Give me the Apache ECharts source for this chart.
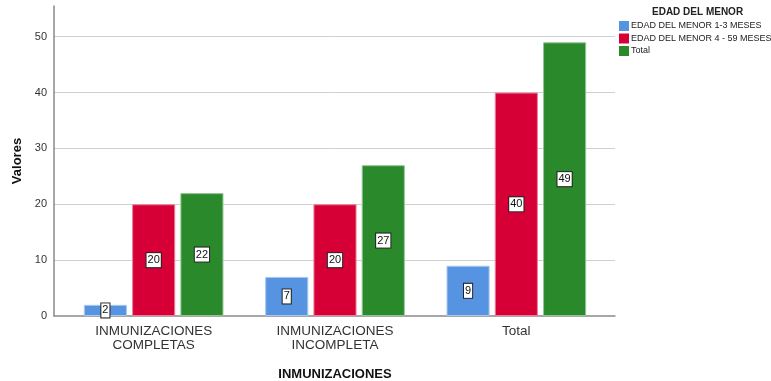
<!DOCTYPE html>
<html>
<head>
<meta charset="utf-8">
<script src="https://cdn.jsdelivr.net/npm/echarts@6/dist/echarts.min.js"></script>
<style>
  html, body { margin: 0; padding: 0; background: #ffffff; }
  #chart { width: 771px; height: 381px; }
</style>
</head>
<body>
<div id="chart"></div>
<script>
// Categories along the x axis
const categories = ['INMUNIZACIONES\nCOMPLETAS', 'INMUNIZACIONES\nINCOMPLETA', 'Total'];

// Series names and values
const seriesNames = ['EDAD DEL MENOR 1-3 MESES', 'EDAD DEL MENOR 4 - 59 MESES', 'Total'];
const edad1a3 = [2, 7, 9];
const edad4a59 = [20, 20, 40];
const totalEdad = [22, 27, 49];

// Value axis ticks
const yMin = 0;
const yMax = 55.5;
const yInterval = 10;

const fills = ['#5694e2', '#d70036', '#2a8a2b'];
const edges = ['#a9c8f0', '#ea7f9a', '#94c494'];
const font = 'Liberation Sans, Arial, sans-serif';

const chart = echarts.init(document.getElementById('chart'), null, { renderer: 'canvas' });

const valueData = [edad1a3, edad4a59, totalEdad];

chart.setOption({
  animation: false,
  backgroundColor: '#ffffff',
  textStyle: { fontFamily: font },
  title: {
    text: 'EDAD DEL MENOR',
    left: 652,
    top: 7,
    padding: 0,
    textStyle: { fontFamily: font, fontSize: 10, fontWeight: 'bold', color: '#222' }
  },
  legend: {
    orient: 'vertical',
    left: 619,
    top: 21,
    padding: 0,
    itemWidth: 10,
    itemHeight: 10,
    itemGap: 2.5,
    icon: 'rect',
    data: seriesNames,
    itemStyle: { borderWidth: 0 },
    textStyle: { fontFamily: font, fontSize: 9, color: '#222', padding: [0, 0, 0, -3] }
  },
  grid: [
    { left: 54, right: 156, top: 6, bottom: 65, outerBoundsMode: 'none', containLabel: false },
    { left: 63, right: 164, top: 6, bottom: 65, outerBoundsMode: 'none', containLabel: false }
  ],
  xAxis: [
    {
      gridIndex: 0,
      type: 'value',
      min: 0,
      max: 1,
      axisLine: { show: true, onZero: false, lineStyle: { color: '#8a8a8a', width: 1.5 } },
      axisTick: { show: false },
      axisLabel: { show: false },
      splitLine: { show: false }
    },
    {
      gridIndex: 1,
      type: 'category',
      data: categories,
      axisLine: { show: false },
      axisTick: { show: false },
      axisLabel: {
        fontFamily: font,
        fontSize: 13.5,
        color: '#333',
        lineHeight: 14.5,
        margin: 8
      },
      name: 'INMUNIZACIONES',
      nameLocation: 'middle',
      nameGap: 52,
      nameTextStyle: { fontFamily: font, fontSize: 13, fontWeight: 'bold', color: '#111' }
    }
  ],
  yAxis: [
    {
      gridIndex: 0,
      type: 'value',
      min: yMin,
      max: yMax,
      interval: yInterval,
      axisLine: { show: true, lineStyle: { color: '#8a8a8a', width: 1.5 } },
      axisTick: { show: false },
      axisLabel: {
        fontFamily: font,
        fontSize: 11,
        color: '#333',
        margin: 7,
        showMaxLabel: false
      },
      splitLine: { show: true, showMaxLine: false, showMinLine: false, lineStyle: { color: '#d0d0d0', width: 1 } },
      name: 'Valores',
      nameLocation: 'middle',
      nameGap: 28,
      nameTextStyle: { fontFamily: font, fontSize: 13, fontWeight: 'bold', color: '#111' }
    },
    {
      gridIndex: 1,
      type: 'value',
      min: yMin,
      max: yMax,
      interval: yInterval,
      show: false
    }
  ],
  series: seriesNames.map((name, i) => ({
    name: name,
    type: 'bar',
    xAxisIndex: 1,
    yAxisIndex: 1,
    data: valueData[i],
    barGap: '12%',
    barCategoryGap: '23%',
    itemStyle: { color: fills[i], borderColor: edges[i], borderWidth: 1 },
    label: {
      show: true,
      position: 'inside',
      fontFamily: font,
      fontSize: 11,
      color: '#111',
      backgroundColor: '#ffffff',
      borderColor: '#222',
      borderWidth: 1,
      padding: [2, 1, 1, 1]
    }
  }))
});
</script>
</body>
</html>
